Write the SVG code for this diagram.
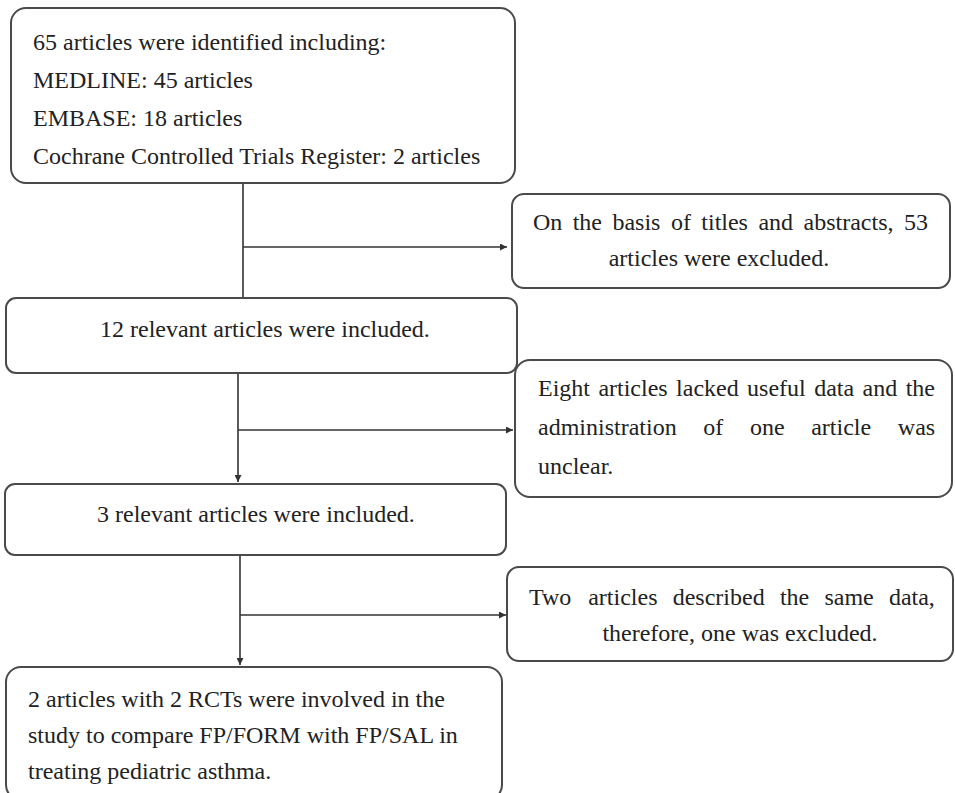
<svg xmlns="http://www.w3.org/2000/svg" width="955" height="793" viewBox="0 0 955 793">
  <style>
    .box { fill: #ffffff; stroke: #4a4a4a; stroke-width: 2; }
    .t { font-family: 'Liberation Serif', 'Times New Roman', Times, 'DejaVu Serif', serif; font-size: 24px; fill: #222222; }
    .c { fill: none; stroke: #333333; stroke-width: 1.6; }
  </style>
  <defs>
    <marker id="arr" viewBox="0 0 10 10" refX="10" refY="5" markerWidth="7" markerHeight="7" markerUnits="userSpaceOnUse" orient="auto">
      <path d="M0,0 L10,5 L0,10 z" fill="#333333"/>
    </marker>
  </defs>
  <rect width="955" height="793" fill="#ffffff"/>

  <g id="connectors">
    <line class="c" x1="243" y1="184" x2="243" y2="297"/>
    <line class="c" x1="243" y1="247" x2="507" y2="247" marker-end="url(#arr)"/>
    <line class="c" x1="238" y1="374" x2="238" y2="482" marker-end="url(#arr)"/>
    <line class="c" x1="238" y1="430" x2="513" y2="430" marker-end="url(#arr)"/>
    <line class="c" x1="240" y1="556" x2="240" y2="665" marker-end="url(#arr)"/>
    <line class="c" x1="240" y1="615" x2="506" y2="615" marker-end="url(#arr)"/>
  </g>

  <g id="identified">
    <rect class="box" x="11" y="8" width="504" height="175" rx="15"/>
    <text class="t" font-family="Liberation Serif, serif" x="33" y="50">65 articles were identified including:</text>
    <text class="t" x="33" y="88">MEDLINE: 45 articles</text>
    <text class="t" x="33" y="126">EMBASE: 18 articles</text>
    <text class="t" x="33" y="164">Cochrane Controlled Trials Register: 2 articles</text>
  </g>

  <g id="excluded1">
    <rect class="box" x="512" y="194" width="438" height="94" rx="12"/>
    <text class="t" y="230"><tspan x="533">On</tspan><tspan x="572.7">the</tspan><tspan x="612.4">basis</tspan><tspan x="670.9">of</tspan><tspan x="701.3">titles</tspan><tspan x="758.4">and</tspan><tspan x="803.5">abstracts,</tspan><tspan x="903.9">53</tspan></text>
    <text class="t" x="719" y="266" text-anchor="middle">articles were excluded.</text>
  </g>

  <g id="included12">
    <rect class="box" x="6" y="298" width="511" height="75" rx="10"/>
    <text class="t" x="100" y="337">12 relevant articles were included.</text>
  </g>

  <g id="excluded2">
    <rect class="box" x="515" y="360" width="437" height="137" rx="15"/>
    <text class="t" y="396"><tspan x="538">Eight</tspan><tspan x="598.4">articles</tspan><tspan x="676.1">lacked</tspan><tspan x="747.1">useful</tspan><tspan x="814.2">data</tspan><tspan x="862.6">and</tspan><tspan x="905.7">the</tspan></text>
    <text class="t" y="435"><tspan x="538">administration</tspan><tspan x="703.3">of</tspan><tspan x="749.9">one</tspan><tspan x="811.2">article</tspan><tspan x="897.8">was</tspan></text>
    <text class="t" x="538" y="474">unclear.</text>
  </g>

  <g id="included3">
    <rect class="box" x="5" y="484" width="501" height="71" rx="10"/>
    <text class="t" x="97" y="522">3 relevant articles were included.</text>
  </g>

  <g id="excluded3">
    <rect class="box" x="507" y="567" width="446" height="94" rx="12"/>
    <text class="t" y="605"><tspan x="529">Two</tspan><tspan x="588.2">articles</tspan><tspan x="672.7">described</tspan><tspan x="779.9">the</tspan><tspan x="824.4">same</tspan><tspan x="888.9">data,</tspan></text>
    <text class="t" x="740" y="641" text-anchor="middle">therefore, one was excluded.</text>
  </g>

  <g id="final">
    <rect class="box" x="6" y="667" width="496" height="133" rx="15"/>
    <text class="t" x="28" y="707">2 articles with 2 RCTs were involved in the</text>
    <text class="t" x="28" y="743">study to compare FP/FORM with FP/SAL in</text>
    <text class="t" x="28" y="779">treating pediatric asthma.</text>
  </g>
</svg>
